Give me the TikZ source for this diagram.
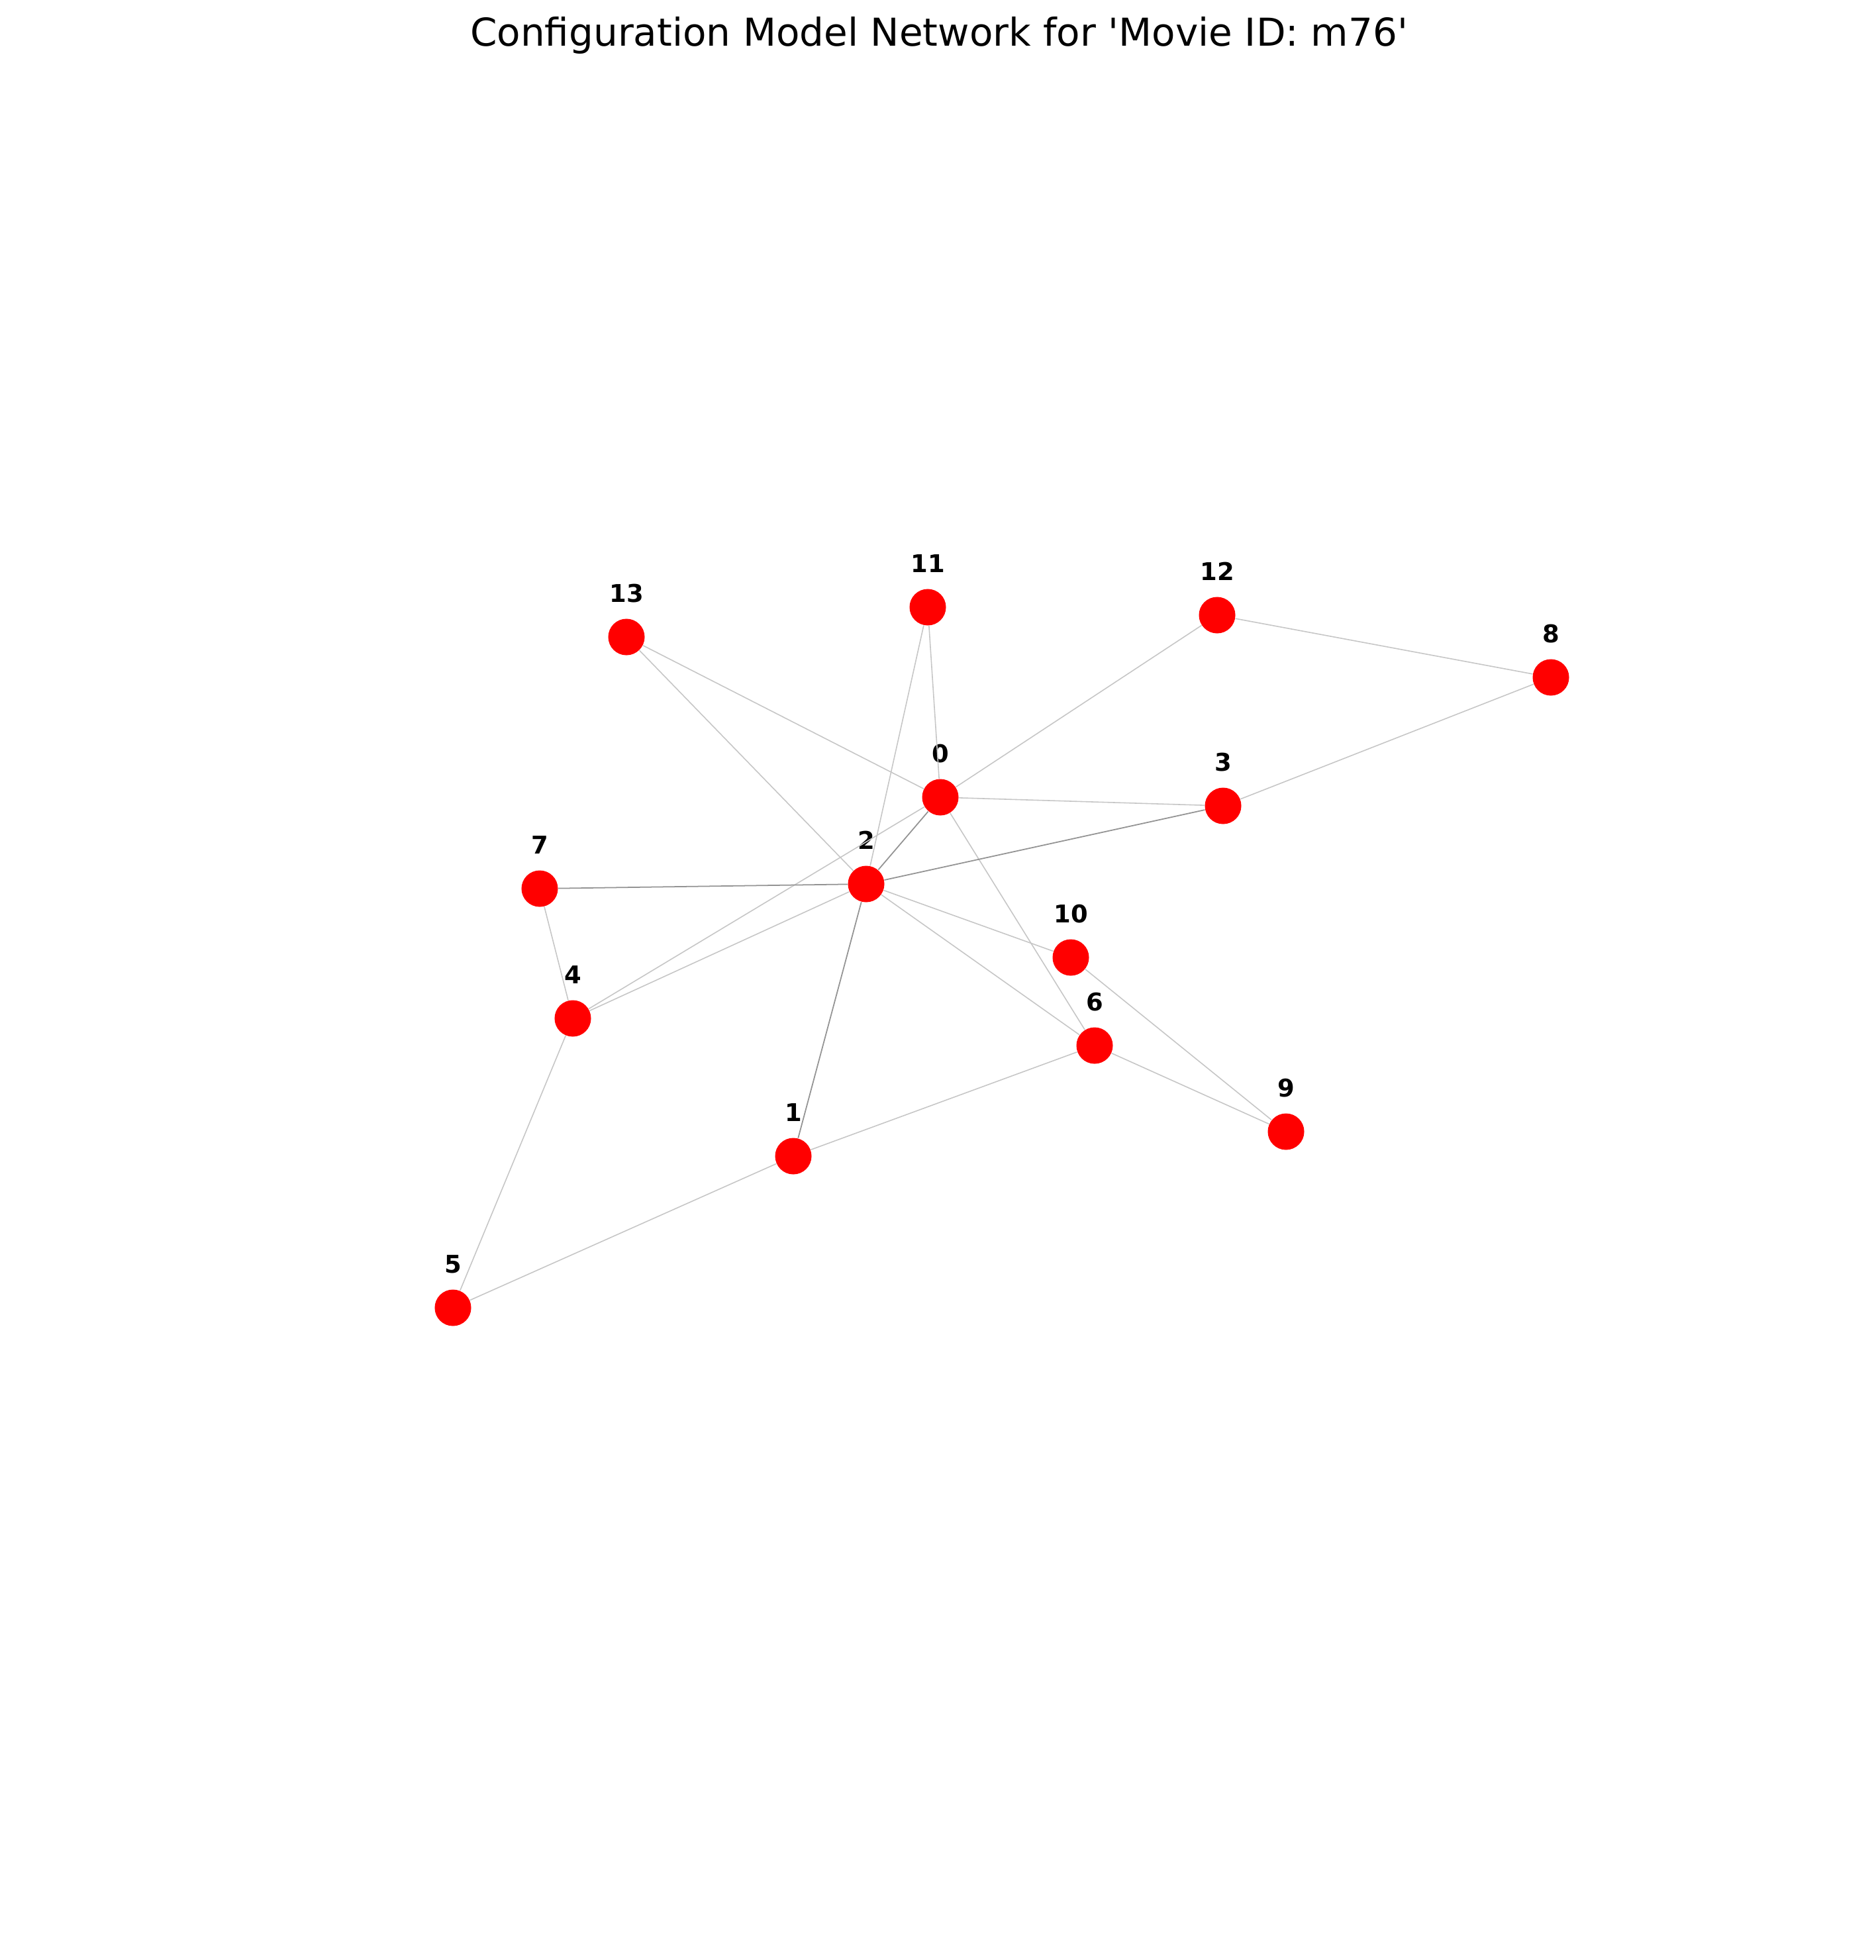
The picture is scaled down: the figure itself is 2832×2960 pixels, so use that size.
\documentclass[tikz,border=0pt]{standalone}
\usepackage{fontspec}
\setmainfont{DejaVu Sans}
\usetikzlibrary{positioning}

\begin{document}
\begin{tikzpicture}[x=0.01cm, y=-0.01cm,
    vertex/.style={circle, fill=red, inner sep=0pt, minimum size=0.55cm},
    vlabel/.style={font=\fontsize{10.5}{12}\selectfont\bfseries, inner sep=0pt},
    edge/.style={gray!45, line width=0.45pt},
    multiedge/.style={gray!85, line width=0.5pt}]
\useasboundingbox (0,0) rectangle (2832,2960);
\node[font=\fontsize{16.5}{20}\selectfont] (title) at (1418,53)
    {Configuration Model Network for \textquotesingle Movie ID: m76\textquotesingle};
% vertices
\foreach \n/\x/\y in {0/1420/1204, 1/1198/1746, 2/1308/1335, 3/1847/1217,
    4/865/1538, 5/684/1975, 6/1653/1579, 7/815/1342, 8/2342/1023,
    9/1942/1709, 10/1617/1446, 11/1401/917, 12/1838/929, 13/946/962} {
    \node[vertex] (n\n) at (\x,\y) {};
    \node[vlabel] (l\n) at ([yshift=0.66cm]n\n.center) {\n};
}
% edges
\foreach \a/\b in {13/2, 13/0, 11/0, 11/2, 12/0, 12/8, 8/3, 0/3, 0/4, 0/6,
    2/4, 2/10, 2/6, 7/4, 4/5, 5/1, 1/6, 6/9, 10/9} {
    \draw[edge] (n\a) -- (n\b);
}
% repeated edges (drawn darker)
\foreach \a/\b in {0/2, 2/3, 2/7, 2/1} {
    \draw[multiedge] (n\a) -- (n\b);
}
\end{tikzpicture}
\end{document}
